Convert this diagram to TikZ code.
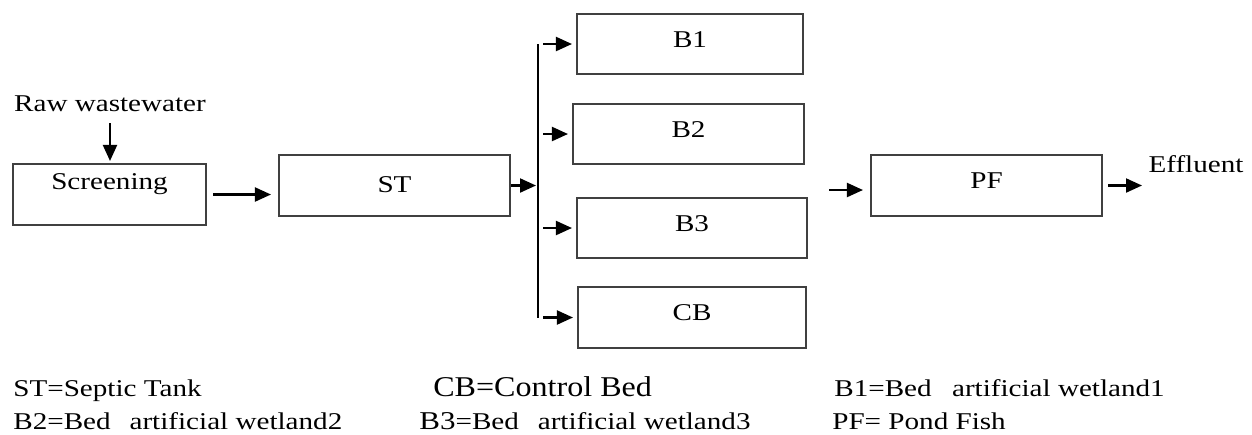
\documentclass[tikz,border=0pt]{standalone}
\usepackage{fontspec}
\setmainfont{Liberation Serif}
\usetikzlibrary{arrows.meta}
\newcommand\wide[2][1.21]{\scalebox{#1}[1]{#2}}
\begin{document}
\begin{tikzpicture}[x=0.02cm,y=-0.02cm,
  box/.style={draw=black!75,line width=1.2pt,minimum width=4.6cm,minimum height=1.2cm,inner sep=0pt,text depth=0.18cm},
  flow/.style={line width=1.2pt,-{Triangle[length=0.32cm,width=0.28cm]}},
  legend/.style={anchor=base west,inner sep=0pt}]
\fontsize{13.7}{16}\selectfont
\useasboundingbox (0,0) rectangle (1252,434);
% process boxes
\node[box,minimum width=3.86cm,minimum height=1.22cm,text depth=0.52cm] (scr) at (109.5,194.5) {\wide{Screening}};
\node (raw) at (110,104) {\wide{Raw wastewater}};
\node[box,minimum width=4.62cm,minimum height=1.22cm,text depth=0.05cm] (st) at (394.5,185.5) {\wide{ST}};
\node[box,minimum width=4.52cm] (b1) at (690,44) {\wide{B1}};
\node[box,minimum width=4.62cm] (b2) at (688.5,134) {\wide{B2}};
\node[box,minimum width=4.6cm] (b3) at (692,228) {\wide{B3}};
\node[box,minimum width=4.56cm,minimum height=1.22cm] (cb) at (692,317.5) {\wide{CB}};
\node[box,minimum width=4.62cm,minimum height=1.22cm,text depth=0.2cm] (pf) at (986.5,185.5) {\wide{PF}};
\node (eff) at (1196,164) {\wide{Effluent}};
\coordinate (top) at (538,44);
\coordinate (bot) at (538,317.5);
\coordinate (pfin) at (829,190);
\coordinate (out) at (1142,185.5);
% flow arrows
\draw[flow,shorten <=0.06cm,shorten >=0.04cm] (raw) -- (raw |- scr.north);
\draw[flow,shorten <=0.12cm,shorten >=0.14cm] (scr.east) -- (scr.east -| st.west);
\draw[flow,shorten >=0.04cm] (st.east) -- (st.east -| top);
\draw[line width=1.2pt] (top) -- (bot);
\foreach \b in {b1,b2,b3,cb}
  \draw[flow,shorten <=0.1cm,shorten >=0.08cm] (top |- \b) -- (\b.west);
\draw[flow,shorten >=0.14cm] (pfin) -- (pfin -| pf.west);
\draw[flow,shorten <=0.1cm] (pf.east) -- (out);
% legend
\node[legend] (lst) at (13,396) {\wide{ST=Septic Tank}};
\node[legend] (lcb) at (433,396) {\wide[1.12]{\fontsize{16.3}{18}\selectfont CB=Control Bed}};
\node[legend] (lb1) at (834,396) {\wide{B1=Bed\hspace{0.7em}artificial wetland1}};
\node[legend] (lb2) at (13,429) {\wide{B2=Bed\hspace{0.65em}artificial wetland2}};
\node[legend] (lb3) at (419,429) {\wide{{\fontsize{14.6}{17}\selectfont B3}=Bed\hspace{0.65em}artificial wetland3}};
\node[legend] (lpf) at (832,429) {\wide{PF= Pond Fish}};
\end{tikzpicture}
\end{document}
